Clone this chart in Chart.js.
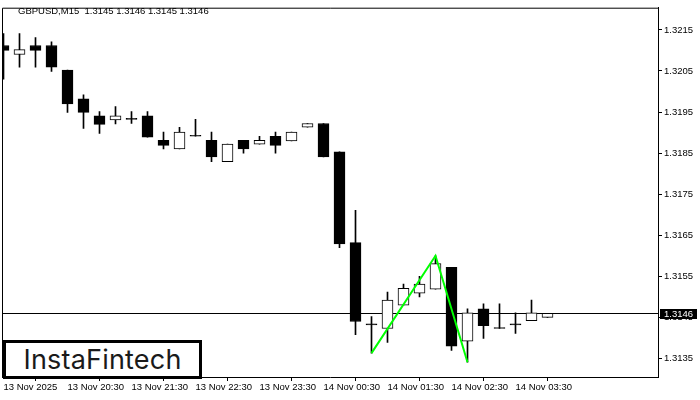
<!DOCTYPE html>
<html>
<head>
<meta charset="utf-8">
<script src="https://cdn.jsdelivr.net/npm/chart.js@4.4.1/dist/chart.umd.min.js"></script>
<style>
html,body{margin:0;padding:0;background:#fff;}
#wrap{position:relative;width:700px;height:400px;}
#logo{position:absolute;left:3px;top:340px;width:193px;height:33px;border:3px solid #000;background:#fff;
  font-family:Inter,"Open Sans",sans-serif;font-weight:400;font-size:27px;color:#1a1a1a;
  display:flex;align-items:center;justify-content:center;letter-spacing:0.2px;}
</style>
</head>
<body>
<div id="wrap">
<canvas id="c" width="700" height="400"></canvas>
<div id="logo">InstaFintech</div>
</div>
<script>
// ---- data (GBPUSD, M15) ----
const titleText = "GBPUSD,M15  1.3145 1.3146 1.3145 1.3146";
const openP  = [1.32112,1.32090,1.32112,1.32112,1.32052,1.31982,1.31941,1.31931,1.31932,1.31941,
                1.31881,1.31860,1.31891,1.31881,1.31829,1.31881,1.31872,1.31891,1.31880,1.31913,
                1.31922,1.31853,1.31632,1.31432,1.31423,1.31480,1.31509,1.31519,1.31572,1.31392,
                1.31471,1.31423,1.31432,1.31442,1.3145];
const highP  = [1.32141,1.32141,1.32131,1.32121,1.32052,1.31992,1.31951,1.31963,1.31951,1.31951,
                1.31901,1.31913,1.31932,1.31901,1.31872,1.31881,1.31891,1.31901,1.31901,1.31922,
                1.31922,1.31853,1.31711,1.31452,1.31512,1.31531,1.31550,1.31600,1.31572,1.31471,
                1.31483,1.31483,1.31461,1.31492,1.3146];
const lowP   = [1.32030,1.32059,1.32059,1.32049,1.31949,1.31910,1.31898,1.31921,1.31922,1.31889,
                1.31860,1.31860,1.31891,1.31829,1.31829,1.31850,1.31872,1.31850,1.31880,1.31913,
                1.31841,1.31620,1.31408,1.31363,1.31389,1.31480,1.31500,1.31519,1.31370,1.31341,
                1.31399,1.31423,1.31411,1.31442,1.3145];
const closeP = [1.32100,1.32102,1.32100,1.32059,1.31970,1.31949,1.31920,1.31941,1.31932,1.31889,
                1.31869,1.31901,1.31891,1.31841,1.31872,1.31860,1.31881,1.31869,1.31901,1.31922,
                1.31841,1.31629,1.31440,1.31432,1.31492,1.31521,1.31531,1.31581,1.31380,1.31461,
                1.31430,1.31423,1.31432,1.31461,1.3146];
const patternBars   = [23, 27, 29];
const patternPrices = [1.31363, 1.31600, 1.31341];
const lastPrice = 1.3146;
const xTickBars  = [0, 4, 8, 12, 16, 20, 24, 28, 32];
const xTickLabels = ["13 Nov 2025","13 Nov 20:30","13 Nov 21:30","13 Nov 22:30","13 Nov 23:30",
                     "14 Nov 00:30","14 Nov 01:30","14 Nov 02:30","14 Nov 03:30"];
const yTickValues = [1.3135,1.3145,1.3155,1.3165,1.3175,1.3185,1.3195,1.3205,1.3215];
const xMin = -0.09375, xMax = 40.90625;
const yMin = 1.31305, yMax = 1.32204;

// ---- build datasets ----
const wickData = openP.map((o, i) => ({x: i, y: [lowP[i], highP[i]]}));
const bodyData = openP.map((o, i) => ({x: i, y: [o, closeP[i]]}));
const bodyFill = openP.map((o, i) => closeP[i] > o ? '#ffffff' : '#000000');
const patternData = patternBars.map((b, i) => ({x: b, y: patternPrices[i]}));

const FONT = "'Liberation Sans', Arial, sans-serif";

const decor = {
  id: 'decor',
  beforeDatasetsDraw(chart) {
    const {ctx, chartArea: a, scales: {y}} = chart;
    const py = Math.round(y.getPixelForValue(lastPrice)) + 0.5;
    ctx.save();
    ctx.strokeStyle = '#000'; ctx.lineWidth = 1;
    ctx.beginPath(); ctx.moveTo(a.left, py); ctx.lineTo(a.right, py); ctx.stroke();
    ctx.restore();
  },
  afterDraw(chart) {
    const {ctx, chartArea: a, scales: {y}} = chart;
    ctx.save();
    ctx.strokeStyle = '#000'; ctx.lineWidth = 1;
    ctx.beginPath();
    ctx.moveTo(a.left + 0.5, a.bottom); ctx.lineTo(a.left + 0.5, a.top + 0.5); ctx.lineTo(a.right, a.top + 0.5);
    ctx.stroke();
    // title
    ctx.fillStyle = '#000';
    ctx.font = '9.5px ' + FONT;
    ctx.textBaseline = 'alphabetic';
    ctx.textAlign = 'left';
    ctx.fillText(titleText, 18, 14);
    // last price label
    const py = Math.round(y.getPixelForValue(lastPrice));
    ctx.fillStyle = '#000';
    ctx.fillRect(a.right + 2, py - 4, 37, 10);
    ctx.fillStyle = '#fff';
    ctx.textBaseline = 'middle';
    ctx.fillText(lastPrice.toFixed(4), a.right + 6, py + 1.5);
    ctx.restore();
  }
};

new Chart(document.getElementById('c'), {
  type: 'bar',
  data: {
    datasets: [
      {type: 'line', data: patternData, borderColor: '#00ff00', borderWidth: 2, pointRadius: 0,
       fill: false, tension: 0, order: 0},
      {data: bodyData, backgroundColor: bodyFill, borderColor: '#000', borderWidth: 1,
       borderSkipped: false, barThickness: 11, grouped: false, minBarLength: 1, order: 1},
      {data: wickData, backgroundColor: '#000', borderWidth: 0, barThickness: 1,
       grouped: false, minBarLength: 1, order: 2}
    ]
  },
  options: {
    responsive: false,
    animation: false,
    events: [],
    layout: {padding: {left: 2, top: 2, right: 0, bottom: 0}},
    plugins: {legend: {display: false}, tooltip: {enabled: false}, title: {display: false}},
    scales: {
      x: {
        type: 'linear', min: xMin, max: xMax, offset: false,
        afterBuildTicks: s => { s.ticks = xTickBars.map(v => ({value: v})); },
        afterFit: s => { s.height = 23; },
        grid: {drawOnChartArea: false, tickLength: 4, color: '#000', lineWidth: 1},
        border: {display: true, color: '#000', width: 1},
        ticks: {autoSkip: false, align: 'start', maxRotation: 0, padding: 1, color: '#000',
                font: {family: FONT, size: 9.5},
                callback: (v, i) => xTickLabels[i]}
      },
      y: {
        type: 'linear', position: 'right', min: yMin, max: yMax,
        afterBuildTicks: s => { s.ticks = yTickValues.map(v => ({value: v})); },
        afterFit: s => { s.width = 42; },
        grid: {drawOnChartArea: false, tickLength: 4, color: '#000', lineWidth: 1},
        border: {display: true, color: '#000', width: 1},
        ticks: {autoSkip: false, padding: 2, color: '#000', font: {family: FONT, size: 9.5},
                callback: v => Number(v).toFixed(4)}
      }
    }
  },
  plugins: [decor]
});
</script>
</body>
</html>
